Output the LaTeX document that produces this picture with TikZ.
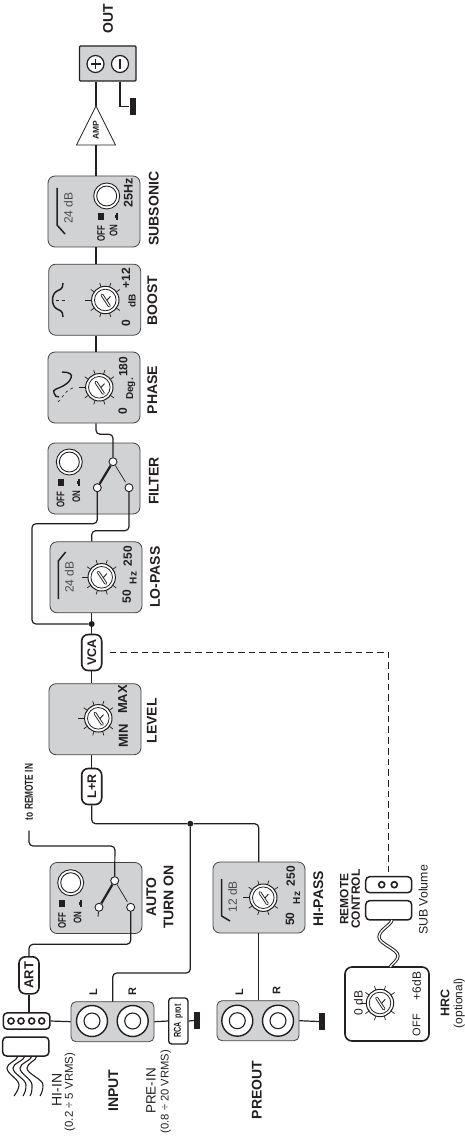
\documentclass[tikz,border=0pt]{standalone}
\usepackage{fontspec}
\setmainfont{Liberation Sans}
\newfontfamily\narrowfont[FakeStretch=0.72]{Liberation Sans}
\usetikzlibrary{calc}
\definecolor{PanelGray}{HTML}{D1D2D4}
\definecolor{InkBlack}{HTML}{231F20}
\newcommand{\fsz}[1]{\fontsize{#1}{#1}\selectfont}
\tikzset{
  panel/.style  = {draw=InkBlack!85, fill=PanelGray, rounded corners=7pt, line width=0.8pt,
                   minimum width=92pt, minimum height=71pt, inner sep=0pt},
  tagbox/.style = {draw=InkBlack, fill=white, rounded corners=6.5pt, line width=1.6pt,
                   minimum width=20pt, minimum height=36pt, inner sep=0pt},
  plug/.style   = {draw=InkBlack, fill=white, rounded corners=4pt, line width=1.5pt, inner sep=0pt},
  wire/.style   = {draw=InkBlack, line width=1.2pt, rounded corners=4pt},
  swnode/.style = {draw=InkBlack, fill=white, circle, line width=0.9pt, minimum size=8pt, inner sep=0pt},
  jack/.style   = {draw=InkBlack, fill=white, circle, line width=1.4pt, minimum size=31pt, inner sep=0pt},
  dotn/.style   = {draw=InkBlack, fill=white, circle, line width=1.6pt, minimum size=6pt, inner sep=0pt},
  junct/.style  = {fill=InkBlack, circle, minimum size=6pt, inner sep=0pt},
  gnd/.style    = {fill=InkBlack, minimum width=6pt, minimum height=17pt, inner sep=0pt},
  lbl/.style    = {rotate=90, inner sep=0pt, text=InkBlack, font=\fsz{12}},
  lblb/.style   = {rotate=90, inner sep=0pt, text=InkBlack, font=\fsz{12}\bfseries},
  titl/.style   = {rotate=90, inner sep=0pt, text=InkBlack, align=center, font=\fontsize{14}{17.3}\selectfont\bfseries},
  narrowb/.style= {rotate=90, inner sep=0pt, text=InkBlack, font=\narrowfont\fsz{11}\bfseries},
  pics/knob/.style = {code={
    \foreach \a in {36,72,108,144,216,252,288,324}
      \draw[InkBlack, line width=0.7pt] (\a:13) -- (\a:18);
    \draw[InkBlack, line width=0.7pt] (180:13) -- (180:20);
    \draw[InkBlack, fill=white, line width=1pt] (0,0) circle (13.7);
    \draw[InkBlack, line width=0.8pt] (0,0) circle (10.8);
    \draw[InkBlack, line width=0.9pt, line cap=round] (1,1) -- (5,-3.5);
    \draw[InkBlack, line width=3pt, line cap=round] (-3.3,-5) -- (4,6);
    \draw[white, line width=1.2pt, line cap=round] (-3.3,-5) -- (4,6);
  }},
  pics/onoff/.style = {code={
    \draw[InkBlack, fill=white, line width=0.9pt] (0,0) circle (13);
    \draw[InkBlack, line width=0.9pt] (0,0) circle (10);
    \node[narrowb] (off) at (-#1,38) {OFF};
    \node[narrowb] (on) at (7,35) {ON};
    \fill[InkBlack] (-#1-3,17) rectangle (-#1+3,24);
    \fill[InkBlack] (9,17) rectangle (11,24);
    \fill[InkBlack] (8,19) rectangle (9,22);
  }},
}
\begin{document}
\begin{tikzpicture}[x=1pt, y=-1pt]
  \useasboundingbox (0,0) rectangle (465,1139);
  % panels
  \node[panel] (subsonic) at (94,211.5) {};
  \node[panel] (boost) at (94.7,299.7) {};
  \node[panel] (phase) at (94,387.5) {};
  \node[panel] (filter) at (94,478.5) {};
  \node[panel] (lopass) at (96,577.3) {};
  \node[panel] (level) at (95,719.2) {};
  \node[panel] (auto) at (96,898) {};
  \node[panel] (hipass) at (259,897.5) {};
  \node[panel, minimum width=83pt, minimum height=40pt, rounded corners=5pt] (input) at (112.5,1021.7) {};
  \node[panel, minimum width=82pt, minimum height=40pt, rounded corners=5pt] (preout) at (258,1020.7) {};
  \node[draw=InkBlack, fill=PanelGray, line width=1.3pt, rounded corners=1pt, minimum width=56.5pt, minimum height=35pt, inner sep=0pt] (outbox) at (107.7,63.5) {};
  \node[plug, line width=1.6pt, rounded corners=7pt, minimum width=84pt, minimum height=74pt] (hrc) at (387,1004) {};
  % output stage
  \node[draw=InkBlack, fill=white, circle, line width=1.2pt, minimum size=17pt, inner sep=0pt] (oplus) at (95.5,64) {};
  \node[draw=InkBlack, fill=white, circle, line width=1.2pt, minimum size=17pt, inner sep=0pt] (ominus) at (120,64) {};
  \draw[InkBlack, line width=1.3pt] ($(oplus)+(-5,0)$) -- ($(oplus)+(5,0)$) ($(oplus)+(0,-5)$) -- ($(oplus)+(0,5)$);
  \draw[InkBlack, line width=1.5pt] ($(ominus)+(0,-5)$) -- ($(ominus)+(0,5)$);
  \draw[InkBlack, fill=white, line width=0.8pt] (96,106) coordinate (ampin) -- (76.5,145) -- (115.5,145) -- cycle;
  \coordinate (ampout) at (96,145);
  \node[lbl, font=\fsz{8.5}\bfseries] (amplbl) at (96,130) {AMP};
  \node[gnd] (gndout) at (132.5,106.5) {};
  \draw[wire] (ampin) -- (ampin |- outbox.south);
  \draw[wire] (ampout) -- (ampout |- subsonic.north);
  \draw[wire, rounded corners=0pt] (ominus |- outbox.south) |- (gndout.west);
  \draw[wire] (ampin |- subsonic.south) -- (ampin |- boost.north);
  \draw[wire] (ampin |- boost.south) -- (ampin |- phase.north);
  % subsonic
  \pic (subsw) at (106.7,196) {onoff=5.7};
  \draw[InkBlack, line width=1.5pt] (57,188) -- (57,225) -- (65,234);
  \node[lbl, text=InkBlack!80] (subdb) at (68.3,208) {24 dB};
  \node[lblb, font=\fsz{12.5}\bfseries] (subhz) at (128.3,193) {25Hz};
  \node[titl] (sublbl) at (153.7,208.7) {SUBSONIC};
  \node[titl] (outlbl) at (108,19) {OUT};
  % boost
  \pic (bknob) at (105.3,300) {knob};
  \draw[InkBlack, line width=1.5pt] (63,283) .. controls +(-1,4) and +(7,-3) .. (57,291) .. controls +(-3,1.5) and +(0,-4) .. (52.5,300) .. controls +(0,4) and +(-3,-1.5) .. (57,309) .. controls +(7,3) and +(-1,-4) .. (63,317);
  \draw[InkBlack, line width=0.7pt, dashed] (56,300) -- (68,300);
  \node[lblb] (bmax) at (126,278) {+12};
  \node[lblb, font=\fsz{10}\bfseries] (bdb) at (132,301) {dB};
  \node[lblb] (bmin) at (126,322.7) {0};
  \node[titl] (boostlbl) at (152.3,301) {BOOST};
  % phase
  \pic (pknob) at (99.3,387.3) {knob};
  \draw[InkBlack, line width=1.4pt] (62,372) .. controls +(7,0) and +(2,-4) .. (71,378) .. controls +(-2,4) and +(5,-3) .. (63,386) .. controls +(-5,3) and +(-2,-4) .. (54,393) .. controls +(1,3) and +(-3,0) .. (59,397);
  \draw[InkBlack, line width=0.6pt, dashed] (73,388) .. controls +(-6,1) and +(3,-4) .. (60,400) .. controls +(-1,2) and +(2,-1) .. (55,403);
  \node[lblb] (pmax) at (123.3,366.7) {180};
  \node[lblb, font=\fsz{10}\bfseries] (pdeg) at (130.7,389) {Deg.};
  \node[lblb] (pmin) at (122.7,411) {0};
  \node[titl] (phaselbl) at (152.3,390) {PHASE};
  % filter
  \pic (fsw) at (69.3,462) {onoff=8.7};
  \node[swnode] (fc) at (113,461.7) {};
  \node[swnode] (fl) at (97.3,487.7) {};
  \node[swnode] (fr) at (129,487.7) {};
  \draw[InkBlack, line width=2.2pt] (fc) -- (fl);
  \draw[InkBlack, line width=0.7pt, shorten >=2pt] (fc) -- (fr);
  \node[titl] (filterlbl) at (153.7,481) {FILTER};
  \draw[wire] (ampin |- phase.south) |- ($(fc.north)+(0,-23)$) -- (fc.north);
  % lo-pass
  \pic (lknob) at (101.7,577.3) {knob};
  \draw[InkBlack, line width=1.5pt] (65.7,552) -- (58.3,561) -- (58.3,599);
  \node[lbl, text=InkBlack!80] (ldb) at (69.3,577) {24 dB};
  \node[lblb] (lmax) at (127.7,556.3) {250};
  \node[lblb, font=\fsz{10}\bfseries] (lhz) at (133.3,578) {Hz};
  \node[lblb] (lmin) at (126.7,596.7) {50};
  \node[titl] (lopasslbl) at (155,577) {LO-PASS};
  % vca, level
  \node[tagbox] (vca) at (91.7,652.5) {};
  \node[lblb, font=\fsz{12.5}\bfseries] (vcalbl) at (vca) {VCA};
  \node[junct] (jvca) at (91.7,624) {};
  \pic (vknob) at (98.3,718.3) {knob};
  \node[lblb, font=\fsz{13}\bfseries] (vmax) at (122.7,699.5) {MAX};
  \node[lblb, font=\fsz{13}\bfseries] (vmin) at (123.3,736) {MIN};
  \node[titl] (levellbl) at (151.7,720.7) {LEVEL};
  \node[tagbox] (lr) at (91.7,786.5) {};
  \node[lblb, font=\fsz{12.5}\bfseries] (lrlbl) at (lr) {L+R};
  \draw[wire] (fl.south) |- (32,523.7) |- (jvca);
  \draw[wire] (fr.south) |- ($(lopass.north -| jvca)+(0,-10.7)$) -- (jvca |- lopass.north);
  \draw[wire] (jvca |- lopass.south) -- (vca.north);
  \draw[wire] (vca.south) -- (vca.south |- level.north);
  \draw[wire] (lr.north |- level.south) -- (lr.north);
  % sum node and hi-pass branch
  \node[junct] (jsum) at (190.3,823.7) {};
  \draw[wire] (lr.south) |- (jsum) -| (258.7,862);
  \pic (hknob) at (263.3,897.7) {knob};
  \draw[InkBlack, line width=1.5pt] (221.7,879) -- (221.7,916) -- (230,921);
  \node[lbl, text=InkBlack!80] (hdb) at (232.7,896.7) {12 dB};
  \node[lblb] (hmax) at (290.7,876) {250};
  \node[lblb, font=\fsz{10}\bfseries] (hhz) at (296.7,898) {Hz};
  \node[lblb] (hmin) at (290,919) {50};
  \node[titl] (hipasslbl) at (318.3,899) {HI-PASS};
  \draw[wire] (hipass.south -| 258.7,0) -- (preout.north -| 258.7,0);
  % auto turn on
  \pic (asw) at (70.7,882.7) {onoff=8.7};
  \node[swnode] (ac) at (114.7,880.7) {};
  \node[swnode] (al) at (99,907.3) {};
  \node[swnode] (ar) at (130.7,907.3) {};
  \coordinate (alend) at (98,916.7);
  \draw[InkBlack, line width=2.2pt] (ac) -- (al);
  \draw[InkBlack, line width=0.7pt, shorten >=2pt] (ac) -- (ar);
  \draw[InkBlack, line width=0.9pt] (al) -- (alend);
  \node[titl] (autolbl) at (160,897) {AUTO\\TURN ON};
  \node[narrowb, font=\narrowfont\fsz{11.5}\bfseries] (remotein) at (29,792) {to REMOTE IN};
  \coordinate (remoteend) at (29,830.7);
  \draw[wire] (remoteend) |- (115,846) -- (ac.north);
  % input side
  \node[tagbox, minimum height=37pt] (art) at (29,975.3) {};
  \node[lblb, font=\fsz{13}\bfseries] (artlbl) at (art) {ART};
  \node[plug, minimum width=46.7pt, minimum height=16.3pt] (hiconn) at (26.6,1021) {};
  \foreach \i/\xx in {1/11,2/21,3/31.7,4/41.7}
    \node[dotn] (hid\i) at (\xx,1021) {};
  \node[plug, minimum width=46.3pt, minimum height=19pt] (hiplug) at (25.8,1046.5) {};
  \foreach \sx/\lx/\rx/\ex in {18/7/19/17,25/13/26/26,32/20/32/33,37/27/43/43}
    \draw[InkBlack, line width=1.1pt] (\sx,1056) .. controls +(-1,5) and +(0,-5) .. (\lx,1068) .. controls +(0,6) and +(0,-6) .. (\rx,1085) .. controls +(0,4) and +(2,-3) .. (\ex-3,1096);
  \draw[wire] (ar.south) |- ($(art.north)+(0,-11.7)$) -- (art.north);
  \draw[wire] (art.south) -- (hiconn.north -| art);
  \draw[wire] (hiconn.east) -- (input.west);
  \node[jack] (jil) at (92,1021) {};
  \node[jack] (jir) at (132.7,1021) {};
  \draw[InkBlack, line width=1.1pt] (jil) circle (8) (jir) circle (8);
  \node[lblb, font=\fsz{11}\bfseries] (inl) at (93.3,992) {L};
  \node[lblb, font=\fsz{11}\bfseries] (inr) at (132.3,992) {R};
  \draw[wire] (jsum) |- (112.7,973) -- (112.7,1001.7);
  \node[plug, rounded corners=3pt, line width=1.3pt, minimum width=19.3pt, minimum height=46pt] (rca) at (178.3,1021) {};
  \node[narrowb, font=\narrowfont\fsz{10}\bfseries] (rcalbl) at (rca) {RCA\ \ prot};
  \node[gnd] (gndin) at (197,1020.5) {};
  \draw[wire] (input.east) -- (rca.west);
  \draw[wire] (rca.east) -- (gndin.west);
  \node[titl] (inputlbl) at (113.3,1090.8) {INPUT};
  \node[lbl, font=\fsz{14}] (hiin) at (56.7,1090) {HI-IN};
  \node[lbl, font=\fsz{11.4}] (hirng) at (70,1092) {(0.2 ÷ 5 VRMS)};
  \node[lbl, font=\fsz{13.5}] (prein) at (151,1091) {PRE-IN};
  \node[lbl, font=\fsz{11.2}] (prerng) at (165.7,1091.7) {(0.8 ÷ 20 VRMS)};
  % preout
  \node[jack] (jol) at (237.3,1020.7) {};
  \node[jack] (jor) at (278,1020.7) {};
  \draw[InkBlack, line width=1.1pt] (jol) circle (8) (jor) circle (8);
  \node[lblb, font=\fsz{11}\bfseries] (outl) at (239.3,992) {L};
  \node[lblb, font=\fsz{11}\bfseries] (outr) at (276.7,991) {R};
  \node[gnd] (gndpre) at (322,1021.5) {};
  \draw[wire] (preout.east) -- (gndpre.west);
  \node[titl] (preoutlbl) at (256.7,1090) {PREOUT};
  % remote control
  \node[plug, minimum width=46pt, minimum height=16pt] (remote) at (388.7,884.7) {};
  \node[dotn] (rd1) at (381.7,884.7) {};
  \node[dotn] (rd2) at (394.3,884.7) {};
  \node[plug, minimum width=46pt, minimum height=19.3pt] (rplug) at (388.7,910.3) {};
  \draw[InkBlack, line width=1pt, double=white, double distance=1.3pt] (392,920) .. controls +(-1,5) and +(0,-7) .. (379,937) .. controls +(0,7) and +(0,-7) .. (398,956) .. controls +(0,4) and +(3,-4) .. (390,967);
  \node[titl, font=\fontsize{12}{11.5}\selectfont\bfseries] (remotelbl) at (350,899) {REMOTE\\CONTROL};
  \node[lbl, font=\fsz{12.3}] (sublvl) at (423.3,900) {SUB Volume};
  \draw[wire, rounded corners=0pt, dash pattern=on 6.7pt off 4pt] ([xshift=7pt]vca.east) -- (vca.east -| remote.north) -- (remote.north);
  % hrc
  \pic (hrcknob) at (380,1003) {knob};
  \node[lbl] (hrc0) at (358.3,1002.7) {0 dB};
  \node[lbl] (hrc6) at (416.7,986) {+6dB};
  \node[lbl, font=\fsz{11}] (hrcoff) at (416.7,1025) {OFF};
  \node[lblb, font=\fsz{12.5}\bfseries] (hrclbl) at (445,1003) {HRC};
  \node[lbl] (hrcopt) at (459.3,1003) {(optional)};
\end{tikzpicture}
\end{document}
